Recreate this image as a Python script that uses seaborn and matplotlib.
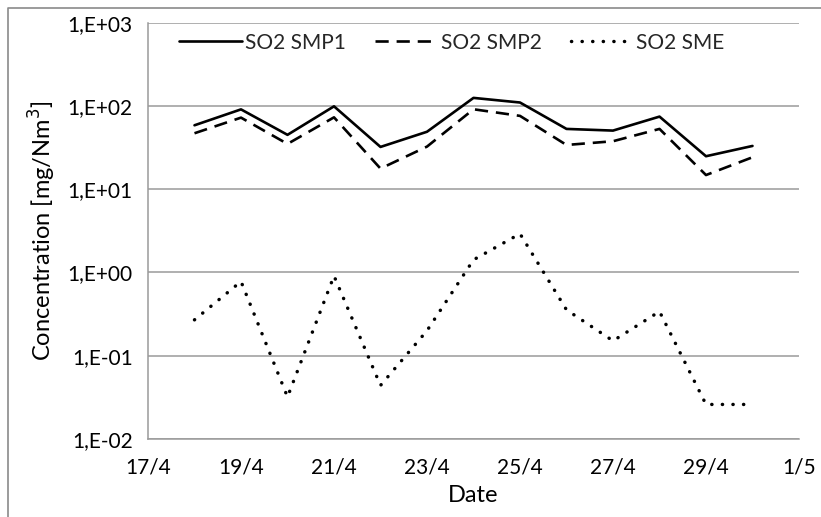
import matplotlib
matplotlib.use("Agg")
import matplotlib.pyplot as plt
import matplotlib.dates as mdates
from matplotlib.ticker import FixedLocator, FixedFormatter, NullLocator, FuncFormatter
from matplotlib.lines import Line2D
import seaborn as sns
import pandas as pd
import numpy as np

# ---- data ----
dates = ["2015-04-18", "2015-04-19", "2015-04-20", "2015-04-21", "2015-04-22",
         "2015-04-23", "2015-04-24", "2015-04-25", "2015-04-26", "2015-04-27",
         "2015-04-28", "2015-04-29", "2015-04-30"]
so2_smp1 = [58.6, 91, 45, 99, 32.2, 49, 125, 110, 53, 50.6, 74.5, 24.9, 33.1]
so2_smp2 = [47, 72.4, 35, 73, 17.7, 32.5, 91.3, 76, 34, 37.7, 53, 14.8, 24.2]
so2_sme = [0.27, 0.78, 0.032, 0.91, 0.044, 0.2, 1.42, 2.92, 0.356, 0.151, 0.34, 0.026, 0.026]
series_names = ["SO2 SMP1", "SO2 SMP2", "SO2 SME"]
ytick_values = [1e-2, 1e-1, 1e0, 1e1, 1e2, 1e3]
ytick_labels = ["1,E-02", "1,E-01", "1,E+00", "1,E+01", "1,E+02", "1,E+03"]
x_start, x_end = "2015-04-17", "2015-05-01"

sns.set_theme(style="white")
plt.rcParams["font.family"] = ["Lato", "DejaVu Sans"]

fig = plt.figure(figsize=(8.21, 5.17), dpi=100)
ax = fig.add_axes([148 / 821, 1 - 439 / 517, (799 - 148) / 821, (439 - 22.7) / 517])

x = pd.to_datetime(dates)
styles = ["-", (0, (5, 3)), (0, (0.05, 3.0))]
lws = [1.9, 1.9, 2.5]
for vals, name, ls, lw in zip([so2_smp1, so2_smp2, so2_sme], series_names, styles, lws):
    sns.lineplot(x=x, y=vals, ax=ax, color="black", label=name, linewidth=lw)
    line = ax.get_lines()[-1]
    line.set_linestyle(ls)
    if name == "SO2 SME":
        line.set_dash_capstyle("round")

ax.set_yscale("log")
ax.set_ylim(1e-2, 1e3)
ax.yaxis.set_major_locator(FixedLocator(ytick_values))
ax.yaxis.set_major_formatter(FixedFormatter(ytick_labels))
ax.yaxis.set_minor_locator(NullLocator())

ax.set_xlim(pd.Timestamp(x_start), pd.Timestamp(x_end))
ax.xaxis.set_major_locator(mdates.DayLocator(bymonthday=[1, 17, 19, 21, 23, 25, 27, 29]))
ax.xaxis.set_major_formatter(FuncFormatter(lambda v, p: f"{mdates.num2date(v).day}/{mdates.num2date(v).month}"))

grid_c = "#9a9a9a"
ax.grid(axis="y", color=grid_c, linewidth=1.1)
ax.grid(axis="x", visible=False)
for s in ["top", "right"]:
    ax.spines[s].set_visible(False)
for s in ["left", "bottom"]:
    ax.spines[s].set_color(grid_c)
    ax.spines[s].set_linewidth(1.1)
ax.tick_params(axis="both", which="major", direction="out", length=6, width=1.1,
               color=grid_c, labelsize=15, labelcolor="black", pad=5)
ax.tick_params(axis="x", pad=7)

ax.set_xlabel("Date", fontsize=17, color="black", labelpad=6)
ax.set_ylabel("Concentration [mg/Nm$^3$]", fontsize=17, color="black", labelpad=7)

ax.legend(loc="center", bbox_to_anchor=(0.467, 0.952), ncol=3, frameon=False,
          fontsize=15, handlelength=3.0, handletextpad=0.15, columnspacing=1.4)

# chart-area border (only top and left visible in the crop)
fig.add_artist(Line2D([8 / 821, 8 / 821, 1.0], [0.0, 1 - 7.5 / 517, 1 - 7.5 / 517],
                      transform=fig.transFigure, color="#8a8a8a", linewidth=1.2))

fig.savefig("out.png", dpi=100)
